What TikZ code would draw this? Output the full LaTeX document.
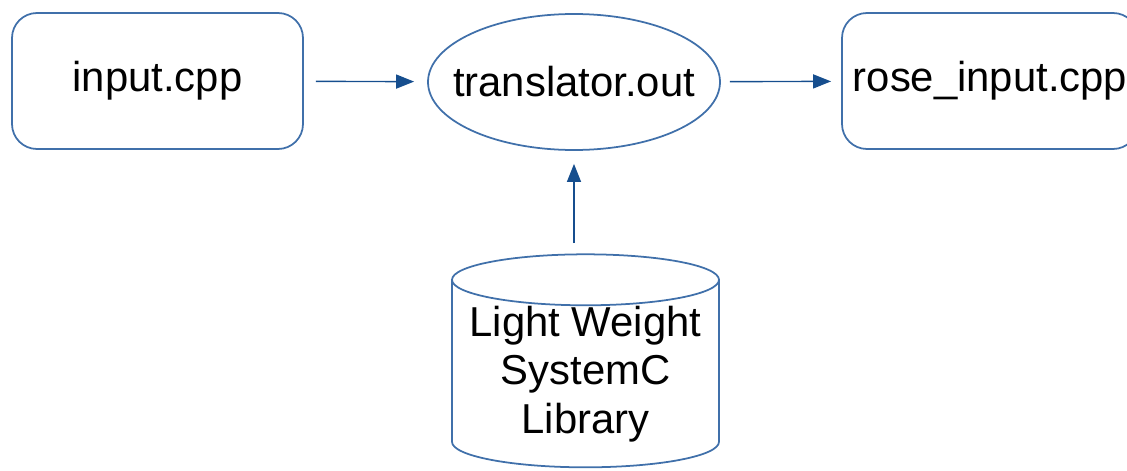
\documentclass[tikz,border=0pt]{standalone}
\usepackage{fontspec}
\setmainfont{Liberation Sans}
\usetikzlibrary{shapes.geometric,arrows.meta}
\definecolor{edgeblue}{RGB}{64,112,170}
\definecolor{arrowblue}{RGB}{22,78,142}
\begin{document}
\begin{tikzpicture}[
  file/.style={draw=edgeblue, line width=1pt, rounded corners=0.5cm,
    minimum width=5.82cm, minimum height=2.72cm, inner sep=0pt},
  prog/.style={draw=edgeblue, line width=1pt, ellipse,
    minimum width=5.84cm, minimum height=2.72cm, inner xsep=-0.42cm},
  lib/.style={draw=edgeblue, line width=1pt, cylinder, shape border rotate=90,
    aspect=0.22, minimum width=5.34cm, minimum height=4.26cm, inner sep=0pt,
    align=center},
  flow/.style={draw=arrowblue, line width=0.8pt,
    -{Triangle[length=0.36cm,width=0.28cm]}}]
\fontsize{23.8}{27.5}\selectfont
\useasboundingbox (0,0) rectangle (22.54,9.4);

\node[file] (in) at (3.15,7.78) {input.cpp};
\node[prog] (tr) at (11.48,7.76) {translator.out};
\node[file, minimum width=5.92cm] (out) at (19.8,7.78) {rose\_input.cpp};
\node[lib] (lw) at (11.71,1.92) {Light Weight\\SystemC\\Library};
\coordinate (lwtop) at (11.48,4.54);

\path[flow, shorten <=0.24cm, shorten >=0.26cm] (in) -- (tr);
\path[flow, shorten <=0.18cm, shorten >=0.2cm] (tr) -- (out);
\path[flow, shorten >=0.26cm] (lwtop) -- (tr);
\end{tikzpicture}
\end{document}
